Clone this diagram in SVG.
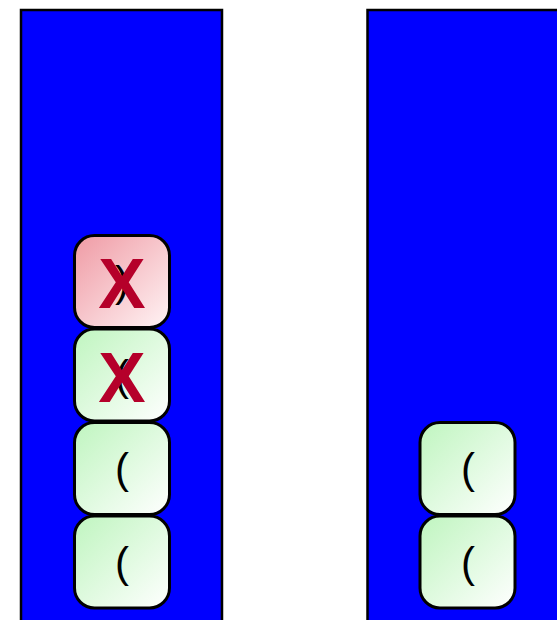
<svg xmlns="http://www.w3.org/2000/svg" width="557" height="620" viewBox="0 0 557 620">
<defs>
<linearGradient id="g" x1="0" y1="0" x2="1" y2="1">
<stop offset="0" stop-color="#bff5bf"/>
<stop offset="1" stop-color="#ffffff"/>
</linearGradient>
<linearGradient id="r" x1="0" y1="0" x2="1" y2="1">
<stop offset="0" stop-color="#ef9aa4"/>
<stop offset="1" stop-color="#fff4f5"/>
</linearGradient>
</defs>
<style>
.col{fill:#0000ff;stroke:#000;stroke-width:2.5}
.box{stroke:#000;stroke-width:3}
.p{font-family:"Liberation Sans",sans-serif;font-size:42px;fill:#000;text-anchor:middle}
.x{font-family:"Liberation Sans",sans-serif;font-weight:bold;font-size:71px;fill:#b5002a;text-anchor:middle}
</style>
<g id="stack1"><rect class="col" x="21" y="10" width="201" height="620"/></g>
<g id="stack2"><rect class="col" x="367.5" y="10" width="201" height="620"/></g>
<g id="n1"><rect class="box" x="74.5" y="235.5" width="95" height="92" rx="20" fill="url(#r)"/><text class="p" x="122" y="296">)</text><text class="x" x="122" y="308">X</text></g>
<g id="n2"><rect class="box" x="74.5" y="329" width="95" height="92" rx="20" fill="url(#g)"/><text class="p" x="122" y="390">(</text><text class="x" x="122" y="402">X</text></g>
<g id="n3"><rect class="box" x="74.5" y="422.5" width="95" height="92" rx="20" fill="url(#g)"/><text class="p" x="122" y="483">(</text></g>
<g id="n4"><rect class="box" x="74.5" y="516" width="95" height="92" rx="20" fill="url(#g)"/><text class="p" x="122" y="577">(</text></g>
<g id="n5"><rect class="box" x="420" y="422.5" width="95" height="92" rx="20" fill="url(#g)"/><text class="p" x="468" y="483">(</text></g>
<g id="n6"><rect class="box" x="420" y="516" width="95" height="92" rx="20" fill="url(#g)"/><text class="p" x="468" y="577">(</text></g>
<g id="connectors"/>
</svg>
